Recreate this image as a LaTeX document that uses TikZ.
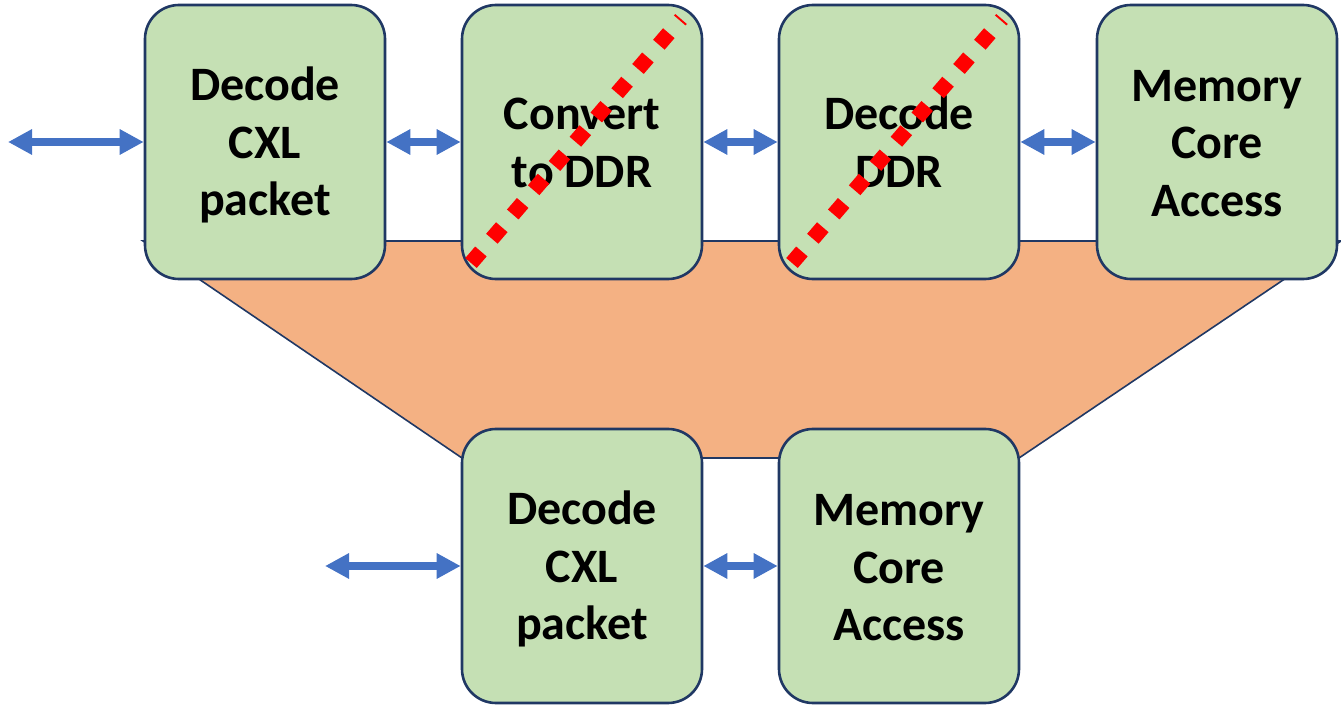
\documentclass[tikz,border=0pt]{standalone}
\usepackage{fontspec}
\setmainfont{Carlito}
\usetikzlibrary{arrows.meta}
\definecolor{boxgreen}{HTML}{C5E0B4}
\definecolor{navy}{HTML}{203864}
\definecolor{orangefill}{HTML}{F4B183}
\definecolor{arrowblue}{HTML}{4472C4}
\tikzset{
  block/.style={draw=navy, line width=1.3pt, fill=boxgreen, rounded corners=17pt,
    minimum width=120pt, minimum height=137pt, inner sep=0pt},
  lbl/.style={align=center, inner sep=0pt, font=\fontsize{24}{28.8}\selectfont\bfseries},
  dbl/.style={arrowblue, line width=3.8pt, {Triangle[length=12pt,width=12pt]}-{Triangle[length=12pt,width=12pt]}},
  cross/.style={red, line width=7.6pt, dash pattern=on 7.6pt off 8.4pt}
}
\begin{document}
\begin{tikzpicture}[x=0.5pt,y=-0.5pt]
\useasboundingbox (0,0) rectangle (1341,706);
% orange trapezoid
\draw[navy, line width=0.8pt, fill=orangefill] (143,241) -- (1341,241) -- (1019,458) -- (462,458) -- cycle;
% top row
\node[block] (b1) at (265,142) {};
\node[block] (b2) at (582,142) {};
\node[block] (b3) at (899,142) {};
\node[block] (b4) at (1217,142) {};
% bottom row
\node[block] (b5) at (582,566) {};
\node[block] (b6) at (899,566) {};
% texts
\node[lbl] (t1) at ([yshift=-1.6pt]b1.center) {Decode\\CXL\\packet};
\node[lbl] (t2) at ([yshift=-0.6pt]b2.center) {Convert\\to DDR};
\node[lbl] (t3) at ([yshift=0.3pt]b3.center) {Decode\\DDR};
\node[lbl] (t4) at ([yshift=-0.7pt]b4.center) {Memory\\Core\\Access};
\node[lbl] (t5) at ([yshift=-1.6pt]b5.center) {Decode\\CXL\\packet};
\node[lbl] (t6) at ([yshift=-1pt]b6.center) {Memory\\Core\\Access};
% crossing-out lines
\draw[cross] (471,263) -- (681,19);
\draw[cross] (792,263) -- (1002,19);
% arrows
\coordinate (in1) at (8,142);
\coordinate (in2) at (325,566);
\draw[dbl] (in1) -- (b1.west);
\draw[dbl] (b1.east) -- (b2.west);
\draw[dbl] (b2.east) -- (b3.west);
\draw[dbl] (b3.east) -- (b4.west);
\draw[dbl] (in2) -- (b5.west);
\draw[dbl] (b5.east) -- (b6.west);
\end{tikzpicture}
\end{document}
